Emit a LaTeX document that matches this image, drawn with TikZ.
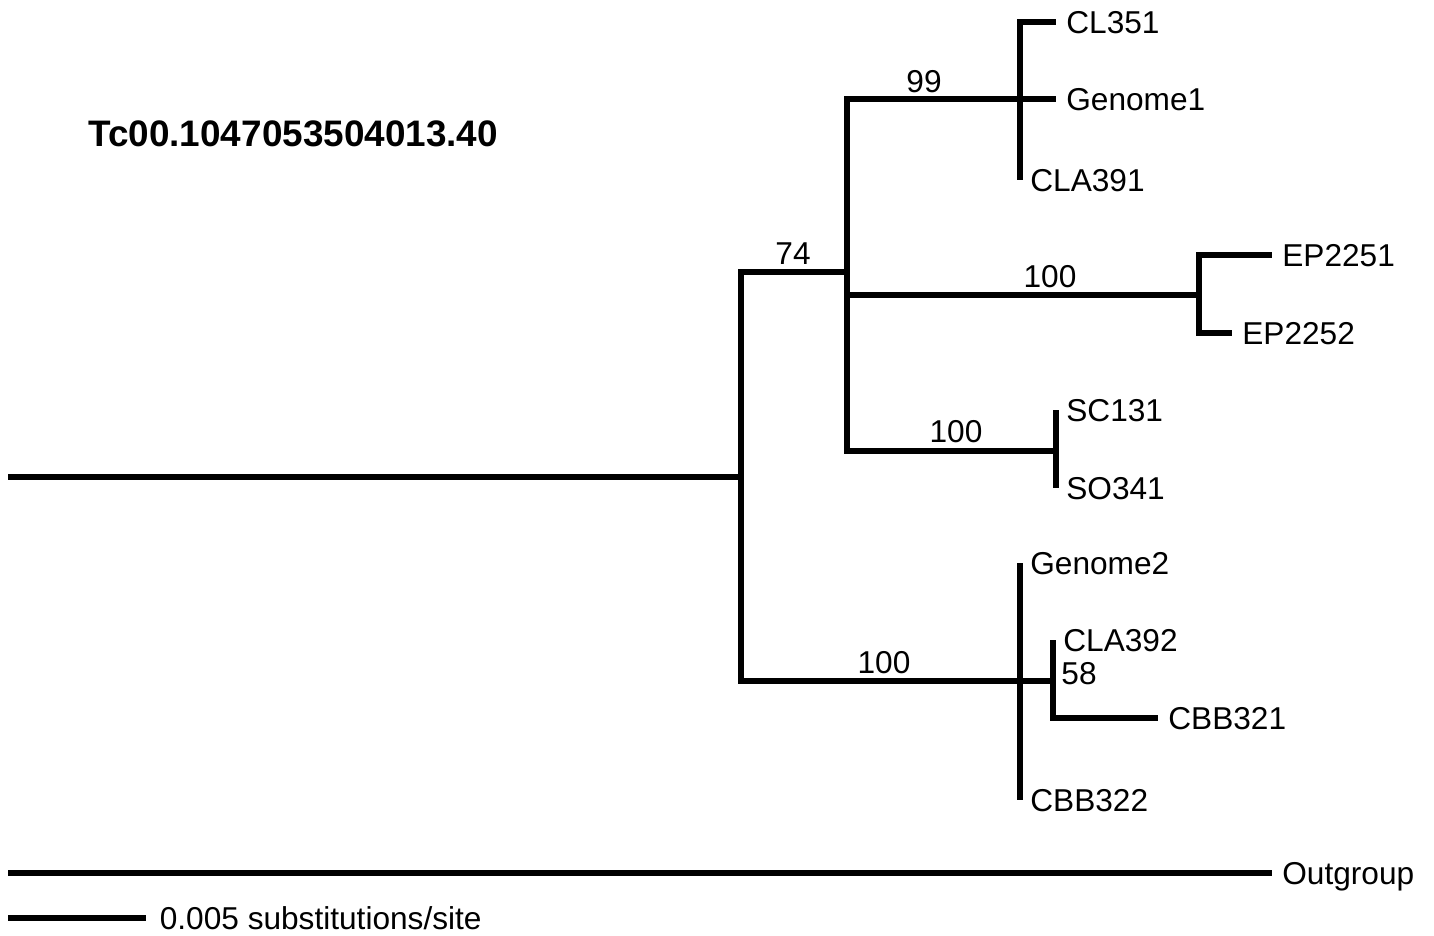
\documentclass[tikz,border=0pt]{standalone}
\usepackage{fontspec}
\setmainfont{Liberation Sans}
\begin{document}
\begin{tikzpicture}[x=0.02cm, y=-0.02cm,
    branch/.style={line width=3pt},
    taxon/.style={anchor=west, inner sep=0pt, text depth=0pt, xshift=0.2cm,
      font=\fontsize{18}{21}\selectfont},
    support/.style={inner sep=0pt, font=\fontsize{18}{21}\selectfont}]
  %% Fix the page to the size of the figure.
  \useasboundingbox (0,0) rectangle (1434,936);

  %% Title of the gene tree.
  \node[anchor=west, inner sep=0pt, font=\fontsize{21}{24}\selectfont\bfseries] (title) at (88,134) {Tc00.1047053504013.40};

  %% Root and internal nodes of the tree.
  \coordinate (root) at (8,477);
  \coordinate (nA) at (741,477);
  \coordinate (nB) at (847,272);
  \coordinate (nC) at (1020,99);
  \coordinate (nD) at (1199,295);
  \coordinate (nE) at (1056,451);
  \coordinate (nF) at (1020,681);
  \coordinate (nG) at (1053,681);

  %% Tips of the tree.
  \coordinate (tCL351) at (1056,22);
  \coordinate (tGenome1) at (1056,99);
  \coordinate (tCLA391) at (1020,180);
  \coordinate (tEP2251) at (1272,255);
  \coordinate (tEP2252) at (1232,333);
  \coordinate (tSC131) at (1056,410);
  \coordinate (tSO341) at (1056,488);
  \coordinate (tGenome2) at (1020,563);
  \coordinate (tCLA392) at (1053,640);
  \coordinate (tCBB321) at (1158,718);
  \coordinate (tCBB322) at (1020,800);

  %% Draw the branches.
  \draw[branch] (root) -- (nA);
  \draw[branch] (nA) |- (nB);
  \draw[branch] (nA) |- (nF);
  \draw[branch] (nB) |- (nC);
  \draw[branch] (nB) |- (nD);
  \draw[branch] (nB) |- (nE);
  \draw[branch] (nC) |- (tCL351);
  \draw[branch] (nC) -- (tGenome1);
  \draw[branch] (nC) |- (tCLA391);
  \draw[branch] (nD) |- (tEP2251);
  \draw[branch] (nD) |- (tEP2252);
  \draw[branch] (nE) |- (tSC131);
  \draw[branch] (nE) |- (tSO341);
  \draw[branch] (nF) |- (tGenome2);
  \draw[branch] (nF) |- (tCBB322);
  \draw[branch] (nF) -- (nG);
  \draw[branch] (nG) |- (tCLA392);
  \draw[branch] (nG) |- (tCBB321);

  %% Names of the taxa.
  \node[taxon] (CL351) at (tCL351) {CL351};
  \node[taxon] (Genome1) at (tGenome1) {Genome1};
  \node[taxon] (CLA391) at (tCLA391) {CLA391};
  \node[taxon] (EP2251) at (tEP2251) {EP2251};
  \node[taxon] (EP2252) at (tEP2252) {EP2252};
  \node[taxon] (SC131) at (tSC131) {SC131};
  \node[taxon] (SO341) at (tSO341) {SO341};
  \node[taxon] (Genome2) at (tGenome2) {Genome2};
  \node[taxon] (CLA392) at (tCLA392) {CLA392};
  \node[taxon] (CBB321) at (tCBB321) {CBB321};
  \node[taxon] (CBB322) at (tCBB322) {CBB322};

  %% Bootstrap support values.
  \node[support] (s74) at (793,254) {74};
  \node[support] (s99) at (924,82) {99};
  \node[support] (s100a) at (1050,277) {100};
  \node[support] (s100b) at (956,432) {100};
  \node[support] (s100c) at (884,663) {100};
  \node[support] (s58) at (1079,674) {58};

  %% Outgroup branch.
  \coordinate (og0) at (8,873);
  \coordinate (og1) at (1272,873);
  \draw[branch] (og0) -- (og1);
  \node[taxon] (Outgroup) at (og1) {Outgroup};

  %% Scale bar.
  \coordinate (sb0) at (8,918);
  \coordinate (sb1) at (146,918);
  \draw[branch] (sb0) -- (sb1);
  \node[taxon, xshift=2pt] (scale) at (sb1) {0.005 substitutions/site};
\end{tikzpicture}
\end{document}
